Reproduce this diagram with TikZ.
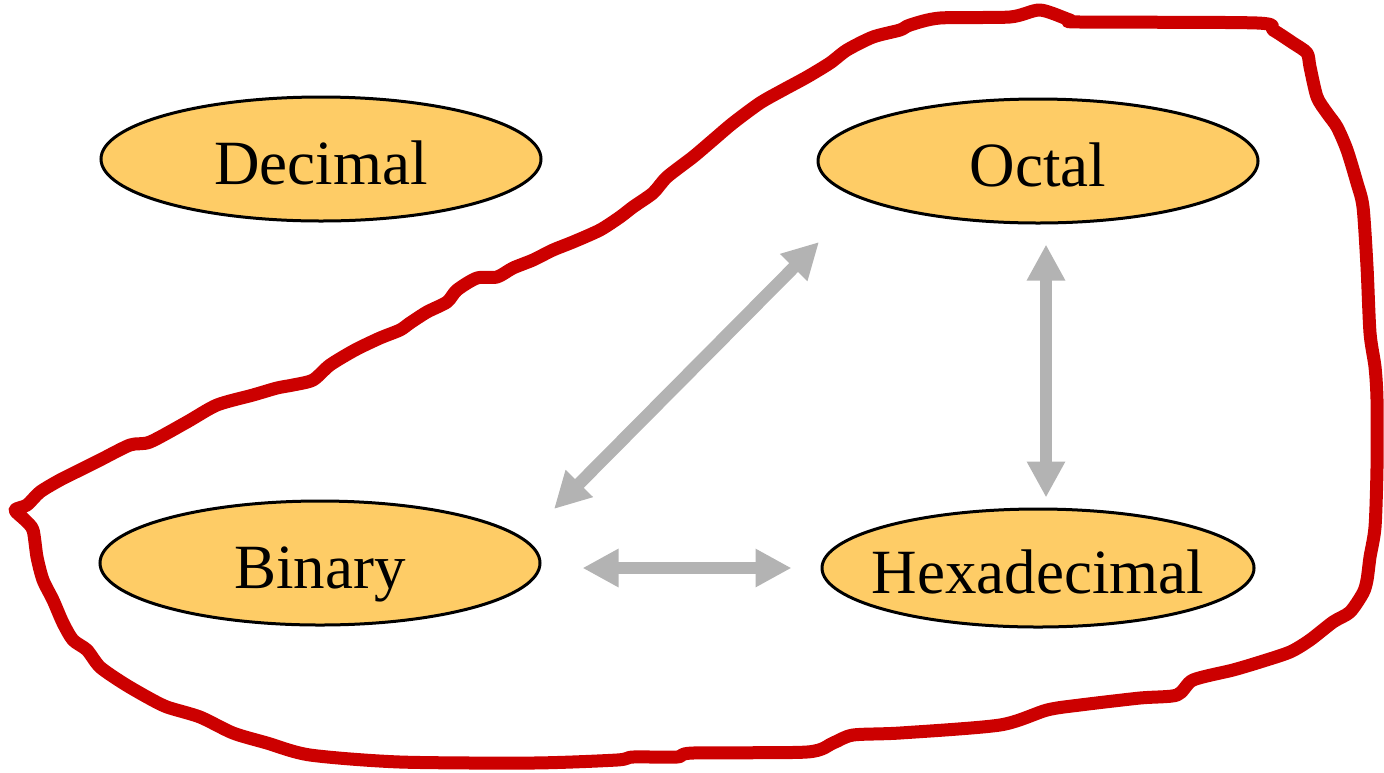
\documentclass[tikz,border=0pt]{standalone}
\usepackage{fontspec}
\setmainfont{Liberation Serif}
\usetikzlibrary{shapes.geometric,arrows.meta}
\definecolor{nodefill}{RGB}{254,204,102}
\definecolor{convgray}{RGB}{179,179,179}
\definecolor{loopred}{RGB}{204,0,0}
% label set on the ellipse's centre line, without widening the shape
\newcommand\sysname[1]{\makebox[0pt]{\raisebox{-12.5pt}[0pt][0pt]{#1}}}
\begin{document}
\begin{tikzpicture}[x=0.5pt,y=-0.5pt,
  base/.style={ellipse, draw=black, line width=1.5pt, fill=nodefill,
    minimum width=220pt, minimum height=62pt, inner sep=0pt,
    font=\fontsize{31.5}{36}\selectfont},
  conv/.style={draw=convgray, line width=6.2pt,
    {Triangle[length=18pt,width=18pt]}-{Triangle[length=18pt,width=18pt]}},
  lasso/.style={draw=loopred, line width=6.5pt, line join=round, line cap=round}]
\useasboundingbox (0,0) rectangle (1384,772);

% number systems
\node[base] (dec) at (321,159) {\sysname{Decimal}};
\node[base] (oct) at (1038,161) {\sysname{Octal}};
\node[base] (bin) at (320,563) {\sysname{Binary}};
\node[base, minimum width=216pt, minimum height=59pt] (hex) at (1038,568) {\sysname{Hexadecimal}};

% conversions
\draw[conv] ([shift={(117pt,27pt)}]bin.center) -- ([shift={(-109.5pt,-40.5pt)}]oct.center);
\draw[conv] ([xshift=4pt,yshift=-10pt]oct.south) -- ([xshift=4pt,yshift=5pt]hex.north);
\draw[conv] ([xshift=20.5pt,yshift=-2.5pt]bin.east) -- ([xshift=-14.5pt]hex.west);

% hand-drawn loop around the related systems
\draw[lasso] plot[smooth cycle, tension=0.45] coordinates {
  (15,510) (27,505) (40,492) (60,480) (80,470) (100,460) (130,445) (150,442)
  (187,422) (217,405) (253,395) (277,388) (293,385) (313,380) (330,365)
  (355,350) (380,338) (400,330) (410,323) (427,312) (447,302) (457,290)
  (477,278) (497,277) (513,268) (533,260) (553,250) (573,242) (600,230)
  (620,217) (633,207) (653,193) (667,177) (693,157) (713,140) (733,123)
  (760,103) (783,90) (807,77) (830,63) (847,50) (873,37) (900,30) (910,25)
  (940,18) (1010,17) (1040,10) (1070,20) (1080,22) (1257,23) (1273,30)
  (1293,43) (1307,53) (1310,67) (1317,97) (1327,113) (1337,127) (1347,150)
  (1357,183) (1363,207) (1367,267) (1370,333) (1375,367) (1377,400)
  (1377,467) (1375,527) (1370,557) (1367,580) (1363,593) (1350,612)
  (1333,622) (1310,640) (1290,652) (1260,662) (1233,670) (1193,680)
  (1177,695) (1140,698) (1080,705) (1047,710) (1000,725) (900,733)
  (853,735) (833,743) (807,752) (693,753) (677,757) (633,757) (617,760)
  (533,763) (400,762) (310,755) (267,743) (233,733) (200,717) (167,707)
  (147,697) (123,683) (100,667) (87,650) (73,640) (63,623) (53,600)
  (43,580) (37,557) (33,530) (25,520)};
\end{tikzpicture}
\end{document}
